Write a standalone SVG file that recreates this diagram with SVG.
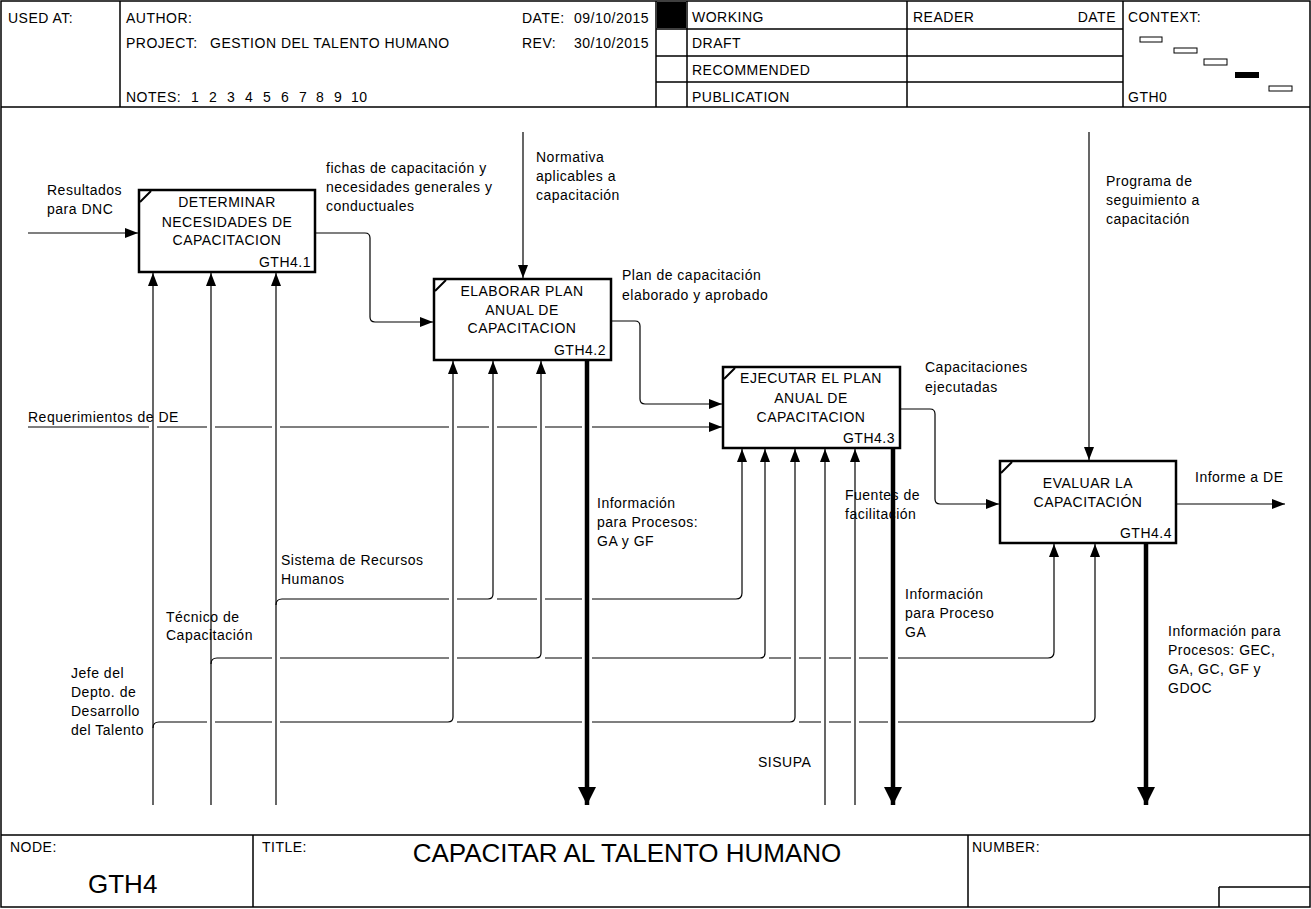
<svg xmlns="http://www.w3.org/2000/svg" width="1311" height="909" viewBox="0 0 1311 909">
<style>
text{font-family:"Liberation Sans",Arial,sans-serif;font-size:14px;letter-spacing:0.5px;fill:#000}
.c{text-anchor:middle}
.e{text-anchor:end}
.big{font-size:26px;letter-spacing:0}
.frame{fill:none;stroke:#000;stroke-width:1.5}
.box{fill:#fff;stroke:#000;stroke-width:2.5}
.mark{fill:none;stroke:#000;stroke-width:2}
.ln{fill:none;stroke:#000;stroke-width:1.2}
.ar{marker-end:url(#a)}
.th{fill:none;stroke:#000;stroke-width:4.5;marker-end:url(#t)}
.cr{fill:#fff;stroke:#000;stroke-width:1}
</style>
<defs>
<marker id="a" markerUnits="userSpaceOnUse" markerWidth="13" markerHeight="10" refX="13" refY="5" orient="auto"><path d="M0,0 L13,5 L0,10 z" fill="#000"/></marker>
<marker id="t" markerUnits="userSpaceOnUse" markerWidth="18" markerHeight="18" refX="18" refY="9" orient="auto"><path d="M0,0 L18,9 L0,18 z" fill="#000"/></marker>
</defs>
<rect width="1311" height="909" fill="#fff"/>
<g id="header">
<rect class="frame" x="1" y="1" width="1309" height="906"/>
<path class="frame" d="M1,107 H1310 M120,1 V107 M656,1 V107 M687,1 V107 M907,1 V107 M1123,1 V107 M656,29 H1123 M656,56 H1123 M656,82 H1123"/>
<rect x="657" y="2" width="29" height="26" fill="#000"/>
<text x="8" y="23">USED AT:</text>
<text x="126" y="23">AUTHOR:</text>
<text x="126" y="48">PROJECT:</text>
<text x="210" y="48">GESTION DEL TALENTO HUMANO</text>
<text x="126" y="102">NOTES:<tspan x="191">1</tspan><tspan x="209">2</tspan><tspan x="227">3</tspan><tspan x="245">4</tspan><tspan x="263">5</tspan><tspan x="281">6</tspan><tspan x="299">7</tspan><tspan x="316">8</tspan><tspan x="334">9</tspan><tspan x="351">10</tspan></text>
<text x="522" y="23">DATE:</text><text x="574" y="23">09/10/2015</text>
<text x="522" y="48">REV:</text><text x="574" y="48">30/10/2015</text>
<text x="692" y="22">WORKING</text>
<text x="692" y="48">DRAFT</text>
<text x="692" y="75">RECOMMENDED</text>
<text x="692" y="102">PUBLICATION</text>
<text x="913" y="22">READER</text>
<text class="e" x="1116" y="22">DATE</text>
<text x="1128" y="22">CONTEXT:</text>
<text x="1128" y="102">GTH0</text>
<rect class="cr" x="1140" y="37" width="22" height="5"/>
<rect class="cr" x="1174" y="48" width="23" height="5"/>
<rect class="cr" x="1204" y="59" width="23" height="6"/>
<rect x="1235" y="72" width="24" height="6" fill="#000"/>
<rect class="cr" x="1269" y="86" width="23" height="5"/>
</g>
<g id="footer">
<path class="frame" d="M1,835 H1310 M253,835 V907 M968,835 V907 M1219,887 H1310 M1219,887 V907"/>
<text x="10" y="852">NODE:</text>
<text class="big" x="88" y="893">GTH4</text>
<text x="262" y="852">TITLE:</text>
<text class="big c" x="627" y="862">CAPACITAR AL TALENTO HUMANO</text>
<text x="972" y="852">NUMBER:</text>
</g>
<g id="connectors">
<path class="ln ar" d="M28,233 H138"/>
<path class="ln ar" d="M315,233 H365 Q370,233 370,238 V317 Q370,322 375,322 H433"/>
<path class="ln ar" d="M523,132 V278"/>
<path class="ln ar" d="M611,321 H635 Q640,321 640,326 V399 Q640,404 645,404 H722"/>
<path class="ln ar" d="M28,427 H149 M157,427 H207 M215,427 H272 M280,427 H449 M457,427 H489 M497,427 H537 M545,427 H582 M592,427 H722"/>
<path class="ln ar" d="M900,409 H930 Q935,409 935,414 V499 Q935,504 940,504 H999"/>
<path class="ln ar" d="M1089,132 V460"/>
<path class="ln ar" d="M1176,504 H1285"/>
<path class="ln ar" d="M153,805 V273"/>
<path class="ln ar" d="M211,805 V273"/>
<path class="ln ar" d="M276,805 V273"/>
<path class="ln" d="M276,605 Q276,599 282,599 H449 M457,599 H488 Q493,599 493,594 M497,599 H537 M545,599 H582 M592,599 H736 Q742,599 742,593"/>
<path class="ln" d="M211,664 Q211,658 217,658 H272 M280,658 H449 M457,658 H536 Q541,658 541,653 M545,658 H582 M592,658 H760 Q765,658 765,653 M769,658 H791 M799,658 H821 M829,658 H851 M859,658 H888 M898,658 H1048 Q1054,658 1054,652"/>
<path class="ln" d="M153,728 Q153,722 159,722 H207 M215,722 H272 M280,722 H448 Q453,722 453,717 M457,722 H582 M592,722 H790 Q795,722 795,717 M799,722 H821 M829,722 H851 M859,722 H888 M898,722 H1090 Q1095,722 1095,717"/>
<path class="ln ar" d="M453,717 V361"/>
<path class="ln ar" d="M493,594 V361"/>
<path class="ln ar" d="M541,653 V361"/>
<path class="ln ar" d="M742,593 V449"/>
<path class="ln ar" d="M765,653 V449"/>
<path class="ln ar" d="M795,717 V449"/>
<path class="ln ar" d="M825,805 V449"/>
<path class="ln ar" d="M855,805 V449"/>
<path class="ln ar" d="M1054,652 V544"/>
<path class="ln ar" d="M1095,717 V544"/>
<path class="th" d="M587,361 V805"/>
<path class="th" d="M893,449 V805"/>
<path class="th" d="M1146,544 V805"/>
</g>
<g id="labels">
<text x="47" y="195">Resultados</text>
<text x="47" y="214">para DNC</text>
<text x="326" y="173">fichas de capacitación y</text>
<text x="326" y="192">necesidades generales y</text>
<text x="326" y="211">conductuales</text>
<text x="536" y="162">Normativa</text>
<text x="536" y="181">aplicables a</text>
<text x="536" y="200">capacitación</text>
<text x="622" y="280">Plan de capacitación</text>
<text x="622" y="300">elaborado y aprobado</text>
<text x="28" y="422">Requerimientos de DE</text>
<text x="925" y="372">Capacitaciones</text>
<text x="925" y="392">ejecutadas</text>
<text x="1106" y="186">Programa de</text>
<text x="1106" y="205">seguimiento a</text>
<text x="1106" y="224">capacitación</text>
<text x="1195" y="482">Informe a DE</text>
<text x="597" y="508">Información</text>
<text x="597" y="527">para Procesos:</text>
<text x="597" y="546">GA y  GF</text>
<text x="845" y="500">Fuentes de</text>
<text x="845" y="519">facilitación</text>
<text x="905" y="599">Información</text>
<text x="905" y="618">para Proceso</text>
<text x="905" y="637">GA</text>
<text x="1168" y="636">Información para</text>
<text x="1168" y="655">Procesos:  GEC,</text>
<text x="1168" y="674">GA, GC, GF y</text>
<text x="1168" y="693">GDOC</text>
<text x="281" y="565">Sistema de Recursos</text>
<text x="281" y="584">Humanos</text>
<text x="166" y="622">Técnico de</text>
<text x="166" y="640">Capacitación</text>
<text x="71" y="678">Jefe del</text>
<text x="71" y="697">Depto. de</text>
<text x="71" y="716">Desarrollo</text>
<text x="71" y="735">del Talento</text>
<text x="758" y="767">SISUPA</text>
</g>
<g id="box1">
<rect class="box" x="139" y="190" width="176" height="82"/>
<path class="mark" d="M140,202 L151,191"/>
<text class="c" x="227" y="207">DETERMINAR</text>
<text class="c" x="227" y="227">NECESIDADES DE</text>
<text class="c" x="227" y="245">CAPACITACION</text>
<text class="e" x="311" y="267">GTH4.1</text>
</g>
<g id="box2">
<rect class="box" x="434" y="279" width="177" height="81"/>
<path class="mark" d="M435,291 L446,280"/>
<text class="c" x="522" y="296">ELABORAR PLAN</text>
<text class="c" x="522" y="315">ANUAL DE</text>
<text class="c" x="522" y="333">CAPACITACION</text>
<text class="e" x="606" y="355">GTH4.2</text>
</g>
<g id="box3">
<rect class="box" x="723" y="367" width="177" height="81"/>
<path class="mark" d="M724,379 L735,368"/>
<text class="c" x="811" y="383">EJECUTAR EL PLAN</text>
<text class="c" x="811" y="403">ANUAL DE</text>
<text class="c" x="811" y="422">CAPACITACION</text>
<text class="e" x="895" y="443">GTH4.3</text>
</g>
<g id="box4">
<rect class="box" x="1000" y="461" width="176" height="82"/>
<path class="mark" d="M1001,473 L1012,462"/>
<text class="c" x="1088" y="488">EVALUAR LA</text>
<text class="c" x="1088" y="507">CAPACITACIÓN</text>
<text class="e" x="1172" y="538">GTH4.4</text>
</g>
</svg>
